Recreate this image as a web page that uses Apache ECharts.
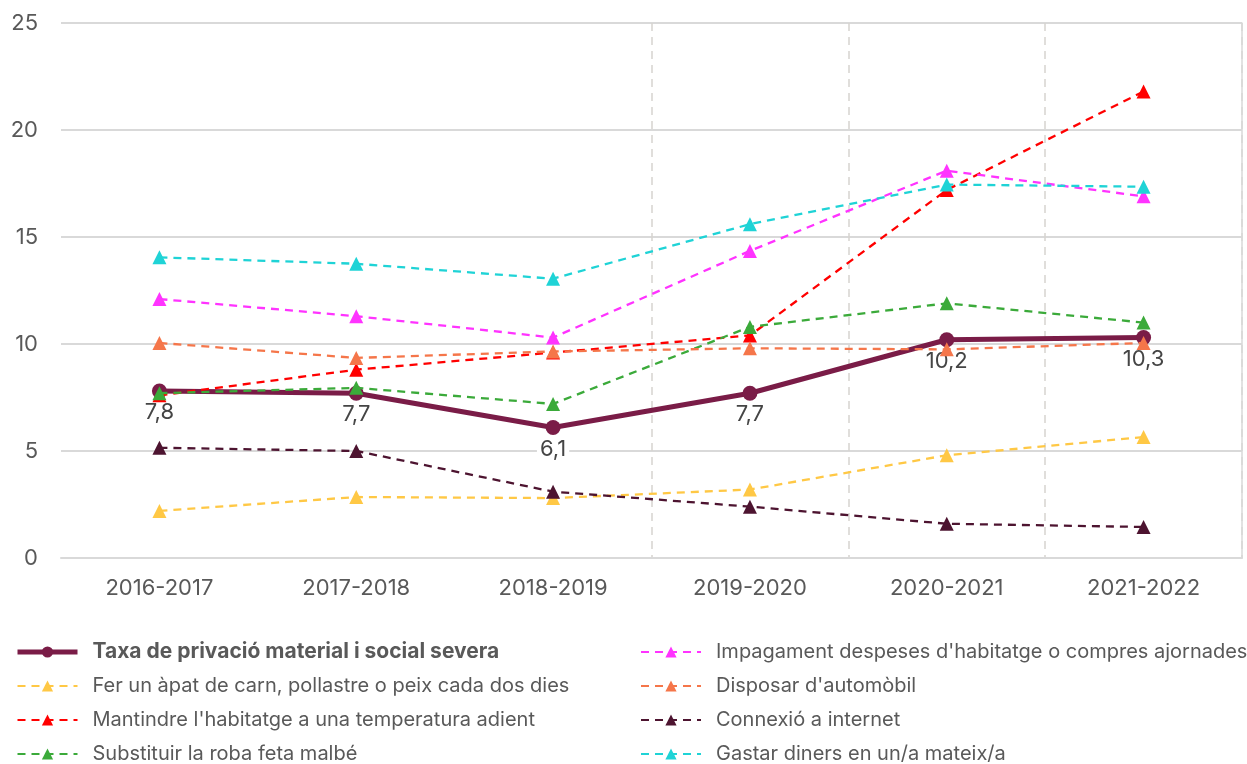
<!DOCTYPE html>
<html>
<head>
<meta charset="utf-8">
<script src="https://cdn.jsdelivr.net/npm/echarts@6/dist/echarts.min.js"></script>
<style>
  html, body { margin: 0; padding: 0; background: #fff; }
  #chart { width: 1247px; height: 764px; }
</style>
</head>
<body>
<div id="chart"></div>
<script>
const cursos = ['2016-2017', '2017-2018', '2018-2019', '2019-2020', '2020-2021', '2021-2022'];

// Taxa i indicadors (%)
const taxaSevera   = [7.8, 7.7, 6.1, 7.7, 10.2, 10.3];
const apatCarn     = [2.2, 2.85, 2.8, 3.2, 4.8, 5.65];
const temperatura  = [7.6, 8.8, 9.6, 10.4, 17.2, 21.8];
const roba         = [7.7, 7.95, 7.2, 10.8, 11.9, 11.0];
const impagament   = [12.1, 11.3, 10.3, 14.35, 18.1, 16.9];
const automobil    = [10.05, 9.35, 9.65, 9.8, 9.75, 10.05];
const internet     = [5.15, 5.0, 3.1, 2.4, 1.6, 1.45];
const gastar       = [14.05, 13.75, 13.05, 15.6, 17.45, 17.35];

const yTicks = [0, 5, 10, 15, 20, 25];

const nomTaxa = 'Taxa de privació material i social severa';
const indicadors = [
  { nom: "Fer un àpat de carn, pollastre o peix cada dos dies", dades: apatCarn, color: '#FFC845' },
  { nom: "Mantindre l'habitatge a una temperatura adient", dades: temperatura, color: '#FF0000' },
  { nom: 'Substituir la roba feta malbé', dades: roba, color: '#3BAA3A' },
  { nom: "Impagament despeses d'habitatge o compres ajornades", dades: impagament, color: '#FF33FF' },
  { nom: "Disposar d'automòbil", dades: automobil, color: '#F5764A' },
  { nom: 'Connexió a internet', dades: internet, color: '#4D1430' },
  { nom: 'Gastar diners en un/a mateix/a', dades: gastar, color: '#1FD3D6' }
];

const fmt = v => String(v).replace('.', ',');
const fontFam = 'Inter, "Noto Sans", sans-serif';
const textColor = '#595959';

const chart = echarts.init(document.getElementById('chart'));

const series = [{
  name: nomTaxa,
  type: 'line',
  data: taxaSevera,
  symbol: 'circle',
  symbolSize: 15,
  lineStyle: { width: 5, color: '#7A1C47' },
  itemStyle: { color: '#7A1C47' },
  label: {
    show: true,
    position: 'bottom',
    distance: 3,
    fontFamily: fontFam,
    fontSize: 22,
    color: '#454545',
    backgroundColor: '#fff',
    padding: [0, 3],
    formatter: p => fmt(p.value)
  },
  z: 2
}].concat(indicadors.map(ind => ({
  name: ind.nom,
  type: 'line',
  data: ind.dades,
  symbol: 'triangle',
  symbolSize: 14,
  lineStyle: { width: 2.3, type: [8, 6], color: ind.color },
  itemStyle: { color: ind.color },
  z: 3
})));

const legendBase = {
  orient: 'vertical',
  top: 636,
  height: 130,
  itemWidth: 60,
  itemHeight: 14,
  itemGap: 12,
  textStyle: { fontFamily: fontFam, fontSize: 20, color: textColor, lineHeight: 22, padding: [0, 0, 0, 10] },
  selectedMode: false
};

const option = {
  animation: false,
  grid: { left: 61, right: 5, top: 23, bottom: 206 },
  legend: [
    Object.assign({}, legendBase, {
      left: 10,
      data: [
        { name: nomTaxa, textStyle: { fontWeight: 'bold', fontSize: 21 }, lineStyle: { width: 5 } },
        indicadors[0].nom, indicadors[1].nom, indicadors[2].nom
      ]
    }),
    Object.assign({}, legendBase, {
      left: 635,
      data: [indicadors[3].nom, indicadors[4].nom, indicadors[5].nom, indicadors[6].nom]
    })
  ],
  xAxis: {
    type: 'category',
    data: cursos,
    boundaryGap: true,
    axisLine: { show: true, lineStyle: { color: '#d9d9d9', width: 2 } },
    axisTick: { show: false },
    axisLabel: { fontFamily: fontFam, fontSize: 22, color: textColor, margin: 19 },
    splitLine: {
      show: true,
      interval: (i) => i >= 3 && i <= 5,
      lineStyle: { color: '#d6d3cf', type: [8, 6], width: 1.5 }
    }
  },
  yAxis: [{
    type: 'value',
    min: yTicks[0],
    max: yTicks[yTicks.length - 1],
    interval: 5,
    axisLine: { show: false },
    axisTick: { show: false },
    axisLabel: { fontFamily: fontFam, fontSize: 22, color: textColor, margin: 23 },
    splitLine: { lineStyle: { color: '#d9d9d9', width: 2 } }
  }, {
    type: 'value',
    position: 'right',
    min: yTicks[0],
    max: yTicks[yTicks.length - 1],
    interval: 5,
    axisLine: { show: true, lineStyle: { color: '#d9d9d9', width: 1.5 } },
    axisTick: { show: false },
    axisLabel: { show: false },
    splitLine: { show: false }
  }],
  series: series
};

chart.setOption(option);
</script>
</body>
</html>
